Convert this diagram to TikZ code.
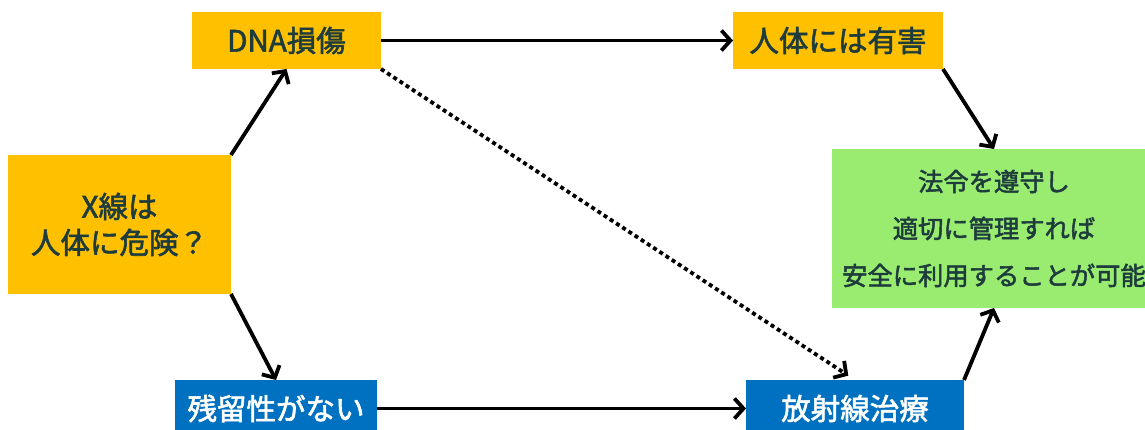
\documentclass[tikz,border=0pt]{standalone}
\usepackage{fontspec}
\setmainfont{Noto Sans CJK JP}
\newfontfamily\labelfont{Noto Sans CJK JP}[FakeBold=2]
\usetikzlibrary{arrows.meta}
\definecolor{boxorange}{HTML}{FFC000}
\definecolor{boxblue}{HTML}{0070C0}
\definecolor{boxgreen}{HTML}{99EC70}
\definecolor{ink}{HTML}{1E3C3C}
\tikzset{
  box/.style={rectangle, inner sep=0pt, outer sep=0pt, align=center},
  warnbox/.style={box, fill=boxorange, text=ink, font=\labelfont\fontsize{29.5}{36}\selectfont},
  goodbox/.style={box, fill=boxblue, text=white, font=\labelfont\fontsize{29.5}{36}\selectfont},
  endbox/.style={box, fill=boxgreen, text=ink, font=\labelfont\fontsize{25.3}{47}\selectfont},
  arr/.style={line width=3.8pt, -{Straight Barb[length=9pt, width=20pt, line width=3.8pt]}},
  dotarr/.style={arr, dash pattern=on 4pt off 3.4pt}
}
\begin{document}
\begin{tikzpicture}[x=1pt, y=-1pt]
  \useasboundingbox (0,0) rectangle (1145,430);
  \clip (0,0) rectangle (1145,430);
  % question and its two consequences
  \node[warnbox, minimum width=223pt, minimum height=139pt] (xq) at (119.5,224.5) {X線は\\人体に危険？};
  \node[warnbox, minimum width=189pt, minimum height=57pt] (dna) at (286.5,40.5) {DNA損傷};
  \node[warnbox, minimum width=210pt, minimum height=57pt] (harm) at (838,40.5) {人体には有害};
  \node[goodbox, minimum width=202pt, minimum height=57pt] (res) at (276,408.5) {残留性がない};
  \node[goodbox, minimum width=218pt, minimum height=57pt] (rad) at (855,408.5) {放射線治療};
  % conclusion
  \node[endbox, minimum width=324pt, minimum height=159pt] (safe) at (994,228.5) {法令を遵守し\\適切に管理すれば\\安全に利用することが可能};
  % connectors
  \draw[arr] (xq.north east) -- (dna.south);
  \draw[arr] (xq.south east) -- (res.north);
  \draw[arr] (dna.east) -- (harm.west);
  \draw[arr] (res.east) -- (rad.west);
  \draw[arr] (harm.south east) -- (safe.north);
  \draw[arr] (rad.north east) -- (safe.south);
  \draw[dotarr, shorten >=8pt] (dna.south east) -- (rad.north);
\end{tikzpicture}
\end{document}
